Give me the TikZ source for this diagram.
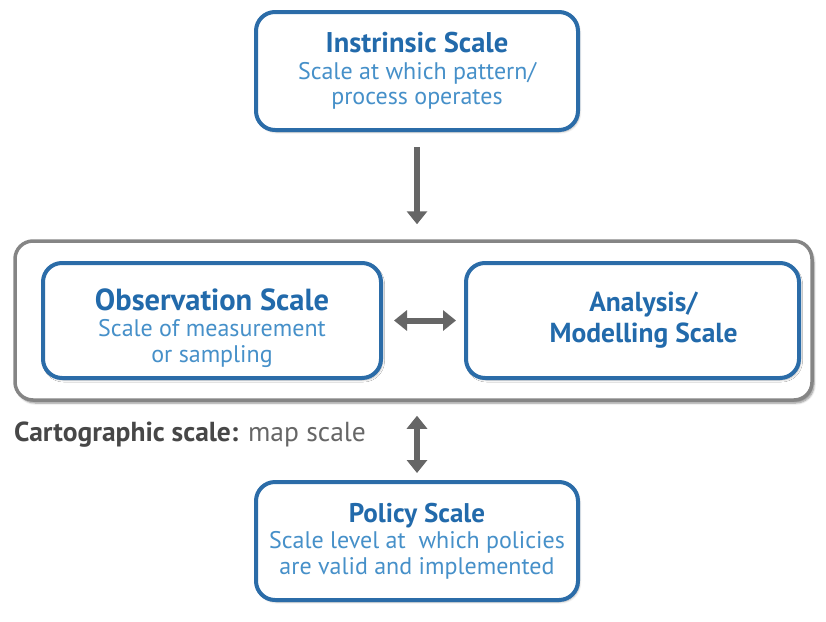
\documentclass[tikz,border=0pt]{standalone}
\usepackage{fontspec}
\setmainfont{PT Sans}
\usetikzlibrary{arrows.meta,shadows.blur,calc}
\definecolor{boxblue}{HTML}{2B6CA8}
\definecolor{titleblue}{HTML}{226AAB}
\definecolor{textblue}{HTML}{4690C9}
\definecolor{arrowgray}{HTML}{666666}
\definecolor{framegray}{HTML}{858585}
% heading line inside a box: optional size, then text
\newcommand{\boxhead}[2][28.5]{{\bfseries\fontsize{#1}{#1}\selectfont\color{titleblue}#2}}
\tikzset{headtip/.tip={Triangle[length=13pt,width=20pt]}}
\begin{document}
\begin{tikzpicture}[x=1pt,y=-1pt,
  scalebox/.style={draw=boxblue,line width=4pt,rounded corners=19pt,fill=white,
    blur shadow={shadow xshift=1.5pt,shadow yshift=-2pt,shadow blur steps=6,shadow opacity=30},
    align=center,inner sep=0pt,text=textblue,
    font=\fontsize{24}{25.5}\selectfont},
  outerframe/.style={draw=framegray,line width=3.5pt,rounded corners=18pt,fill=white,
    blur shadow={shadow xshift=2pt,shadow yshift=-3pt,shadow blur steps=6,shadow opacity=45}},
  link/.style={draw=arrowgray,line width=6pt,-headtip},
  dlink/.style={draw=arrowgray,line width=6pt,headtip-headtip}
]
\useasboundingbox (0,0) rectangle (826,621);

% outer frame holding observation and analysis scales
\node[outerframe,minimum width=797pt,minimum height=159pt] (frame) at (413.5,320.5) {};

\node[scalebox,minimum width=322pt,minimum height=118pt] (intr) at (417,71)
  {\boxhead{Instrinsic Scale}\\[1pt]Scale at which pattern/\\process operates};

% the strut on the heading lowers the text block a little inside the box
\node[scalebox,minimum width=338pt,minimum height=115pt] (obs) at (212,320.5)
  {\boxhead[30.5]{\rule{0pt}{37pt}Observation Scale}\\[1pt]Scale of measurement\\or sampling};

\node[scalebox,minimum width=333pt,minimum height=115pt,
      font=\fontsize{27}{31}\selectfont] (ana) at (632.5,320.5)
  {\hspace*{22pt}\boxhead[27.5]{Analysis/}\\\hspace*{22pt}\boxhead[27.5]{Modelling Scale}};

\node[scalebox,minimum width=322pt,minimum height=118pt] (pol) at (417,541)
  {\boxhead[27]{Policy Scale}\\[1pt]Scale level at\ \ which policies\\are valid and implemented};

\node[anchor=base west,inner sep=0pt,text=black!60,font=\fontsize{27.5}{30}\selectfont] (carto) at (14,441)
  {\textbf{\color{black!72}Cartographic scale:} map scale};

% connectors
\draw[link] ([yshift=-15pt]intr.south) -- ($(intr.south |- frame.north)+(0,-15)$);
\draw[dlink] ([xshift=11pt]obs.east) -- ([xshift=-8pt]ana.west);
\draw[dlink] ($(pol.north |- frame.south)+(0,14)$) -- ($(pol.north)+(0,-7)$);
\end{tikzpicture}
\end{document}
